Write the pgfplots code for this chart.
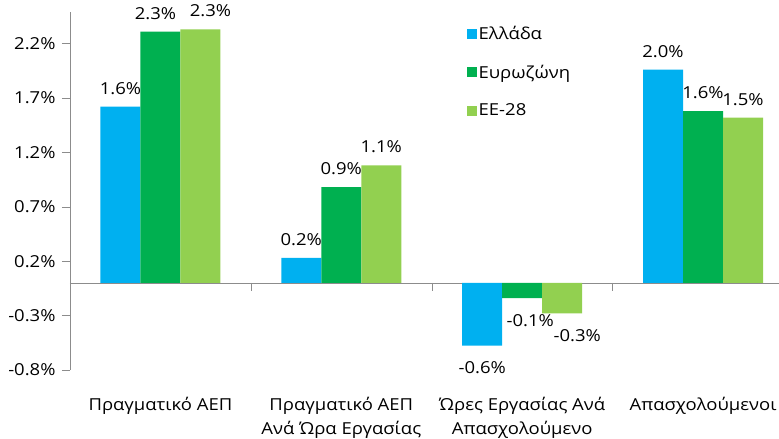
\documentclass[border=0pt]{standalone}
\usepackage{fontspec}
\setmainfont{Open Sans}[FakeStretch=1.12]
\usepackage{pgfplots}
\pgfplotsset{compat=1.18}
\usepackage{pgfplotstable}
\definecolor{cblue}{HTML}{00B0F0}
\definecolor{cgreen}{HTML}{00B050}
\definecolor{clight}{HTML}{92D050}
\definecolor{axgray}{HTML}{8C8C8C}

\pgfplotstableread{
x y
0 1.62
1 0.23
2 -0.575
3 1.96
}\greece
\pgfplotstableread{
x y
0 2.31
1 0.88
2 -0.14
3 1.58
}\eurozone
\pgfplotstableread{
x y
0 2.33
1 1.08
2 -0.28
3 1.52
}\eut

\begin{document}
\begin{tikzpicture}[font=\fontsize{16.5}{24}\selectfont]
\begin{axis}[
  name=ax,
  scale only axis, width=709pt, height=358pt,
  xmin=-0.5, xmax=3.42, ymin=-0.8, ymax=2.49,
  axis x line*=bottom, x axis line style={draw=none},
  axis y line*=left, y axis line style={axgray},
  tick align=outside, major tick length=8pt,
  ytick={-0.8,-0.3,0.2,0.7,1.2,1.7,2.2},
  ytick style={axgray},
  yticklabel={\pgfmathprintnumber[fixed,precision=1,fixed zerofill]{\tick}\%},
  /pgf/number format/assume math mode=true,
  y tick label style={xshift=-3pt},
  xtick={0,1,2,3},
  xtick style={draw=none},
  xticklabels={Πραγματικό ΑΕΠ,{Πραγματικό ΑΕΠ\\Ανά Ώρα Εργασίας},{Ώρες Εργασίας Ανά\\Απασχολούμενο},Απασχολούμενοι},
  x tick label style={align=center, yshift=-16pt},
  extra y ticks={0}, extra y tick labels={},
  extra y tick style={grid=major, major grid style={axgray}, major tick length=0pt},
  ybar=0pt, bar width=40pt,
  point meta=y,
  nodes near coords={\pgfmathprintnumber[fixed,precision=1,fixed zerofill]{\pgfplotspointmeta}\%},
  nodes near coords align=vertical,
  every node near coord/.append style={inner ysep=14pt, yshift=-2pt},
  visualization depends on={x \as \xx},
  legend cell align=left,
  legend style={at={(axis description cs:0.555,0.972)}, anchor=north west,
    draw=none, fill=none, row sep=20pt},
  legend image code/.code={\fill[#1] (0pt,-5pt) rectangle (10pt,5pt);},
]
\addplot[fill=cblue, draw=none] table[x=x,y=y] {\greece};
\addplot[fill=cgreen, draw=none,
  every node near coord/.append style={xshift={(\xx<0.5)*(-5)+(\xx>1.5)*(\xx<2.5)*8}}] table[x=x,y=y] {\eurozone};
\addplot[fill=clight, draw=none,
  every node near coord/.append style={xshift={(\xx<0.5)*(10)+(\xx>1.5)*(\xx<2.5)*15}}] table[x=x,y=y] {\eut};
\legend{Ελλάδα,Ευρωζώνη,ΕΕ-28}
\draw[axgray] (axis cs:0.5,0) -- ([yshift=-8pt]axis cs:0.5,0);
\draw[axgray] (axis cs:1.5,0) -- ([yshift=-8pt]axis cs:1.5,0);
\draw[axgray] (axis cs:2.5,0) -- ([yshift=-8pt]axis cs:2.5,0);
\end{axis}
\pgfresetboundingbox
\path[use as bounding box] ([xshift=-70pt,yshift=-69pt]ax.south west) rectangle ([yshift=12pt]ax.north east);
\end{tikzpicture}
\end{document}
